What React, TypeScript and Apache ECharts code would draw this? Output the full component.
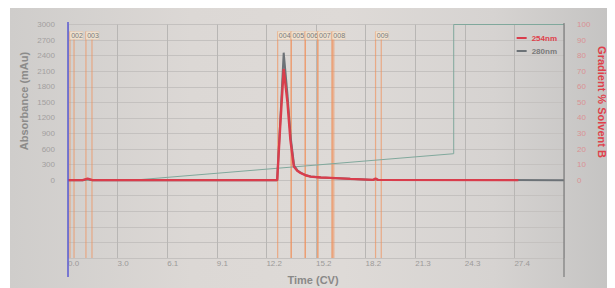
import React, { useEffect, useRef } from "react";
import * as echarts from "echarts";

// Time axis (CV) for the UV traces
const time254 = [0, 0.9, 1.2, 1.5, 3.8, 12.82, 13.0, 13.22, 13.45, 13.63, 13.84, 14.05, 14.25, 14.55, 14.86, 15.5, 16.1, 17.3, 18.7, 18.85, 19.0, 27.6];
const abs254 = [0, 0, 30, 0, 0, 0, 1000, 2143, 1500, 776, 262, 180, 140, 95, 69, 52, 44, 25, 5, 30, 5, 0];
const time280 = [0, 0.9, 1.2, 1.5, 3.8, 12.82, 13.0, 13.22, 13.45, 13.65, 13.86, 14.07, 14.27, 14.57, 14.88, 15.5, 16.1, 17.3, 18.7, 18.85, 19.0, 30.4];
const abs280 = [0, 0, 20, 0, 0, 0, 1080, 2457, 1650, 820, 280, 185, 142, 96, 70, 52, 44, 25, 5, 20, 5, 0];

// Gradient %B
const gradTime = [0, 4.0, 23.64, 23.64, 30.4];
const gradPct = [0, 0, 17, 100, 100];

// Fractions
const fractionLabels = ["002", "003", "004", "005", "006", "007", "008", "009"];
const fractionStart = [0.12, 1.1, 12.85, 13.68, 14.54, 15.31, 16.19, 18.85];
const fractionEnd = [0.37, 1.47, 13.68, 14.54, 15.31, 16.19, 16.29, 19.2];

// Axes
const xMax = 30.4;
const xStep = 3.04;
const absMin = -1500;
const absMax = 3000;
const absStep = 300;
const pctMin = -50;
const pctMax = 100;
const pctStep = 10;

const FONT = "'Liberation Sans', Arial, sans-serif";

export default function App() {
  const ref = useRef<HTMLDivElement>(null);
  useEffect(() => {
    if (!ref.current) return;
    const chart = echarts.init(ref.current, null, { renderer: "svg" });
    const zip = (a: number[], b: number[]) => a.map((v, i) => [v, b[i]]);
    const option: any = {
      animation: false,
      backgroundColor: "transparent",
      grid: { left: 58, right: 51, top: 16.5, bottom: 30 },
      legend: {
        orient: "vertical",
        right: 53,
        top: 21,
        itemWidth: 10,
        itemHeight: 2,
        itemGap: 5,
        icon: "rect",
        textStyle: { fontSize: 8, fontWeight: "bold", fontFamily: FONT },
        data: [
          { name: "254nm", textStyle: { color: "#e0404a" } },
          { name: "280nm", textStyle: { color: "#7a7a7a" } },
        ],
      },
      xAxis: {
        type: "value",
        min: 0,
        max: xMax,
        interval: xStep,
        axisLine: { show: false },
        axisTick: { show: false },
        splitLine: { show: true, lineStyle: { color: "#b8b6b4", width: 1 } },
        axisLabel: {
          showMaxLabel: false,
          align: "left",
          margin: 1,
          fontSize: 8,
          color: "#9c9a99",
          fontFamily: FONT,
          formatter: (v: number) => v.toFixed(1),
        },
      },
      yAxis: [
        {
          type: "value",
          min: absMin,
          max: absMax,
          interval: absStep,
          axisLine: { show: false },
          axisTick: { show: false },
          splitLine: { show: true, lineStyle: { color: "#c4c1bf", width: 1 } },
          axisLabel: {
            margin: 13,
            fontSize: 8,
            color: "#a3a09f",
            fontFamily: FONT,
            formatter: (v: number) => (v < 0 ? "" : String(v)),
          },
        },
        {
          type: "value",
          position: "right",
          min: pctMin,
          max: pctMax,
          interval: pctStep,
          axisLine: { show: false },
          axisTick: { show: false },
          splitLine: { show: false },
          axisLabel: {
            margin: 13,
            fontSize: 8,
            align: "left",
            color: "#d99294",
            fontFamily: FONT,
            formatter: (v: number) => (v < 0 ? "" : String(v)),
          },
        },
      ],
      series: [
        {
          type: "custom",
          name: "fractions",
          xAxisIndex: 0,
          yAxisIndex: 0,
          z: 1,
          encode: { x: [0, 1], y: 3 },
          data: fractionStart.map((s, i) => [s, fractionEnd[i], i, absMax]),
          renderItem: (params: any, api: any) => {
            const s = api.coord([api.value(0), absMax]);
            const e = api.coord([api.value(1), absMax]);
            const b = api.coord([api.value(0), absMin]);
            const top = s[1] + 7;
            const bottom = b[1];
            const label = fractionLabels[api.value(2)];
            const stroke = "rgba(240,145,90,0.65)";
            return {
              type: "group",
              children: [
                { type: "line", shape: { x1: s[0], y1: top, x2: s[0], y2: bottom }, style: { stroke, lineWidth: 1.2 } },
                { type: "line", shape: { x1: e[0], y1: top, x2: e[0], y2: bottom }, style: { stroke, lineWidth: 1.2 } },
                {
                  type: "rect",
                  shape: { x: s[0], y: top, width: 13, height: 8 },
                  style: { fill: "rgba(238,226,208,0.95)", stroke: "rgba(235,180,140,0.5)", lineWidth: 0.5 },
                },
                {
                  type: "text",
                  x: s[0] + 1.2,
                  y: top + 4.3,
                  style: { text: label, fontSize: 7, fill: "#7a7a7a", verticalAlign: "middle", fontFamily: FONT },
                },
              ],
            };
          },
        },
        {
          type: "line",
          name: "Gradient",
          yAxisIndex: 1,
          data: zip(gradTime, gradPct),
          symbol: "none",
          z: 2,
          lineStyle: { color: "#80a89c", width: 1 },
          itemStyle: { color: "#80a89c" },
        },
        {
          type: "line",
          name: "280nm",
          yAxisIndex: 0,
          data: zip(time280, abs280),
          symbol: "none",
          z: 3,
          lineStyle: { color: "#6c7277", width: 2 },
          itemStyle: { color: "#6c7277" },
        },
        {
          type: "line",
          name: "254nm",
          yAxisIndex: 0,
          data: zip(time254, abs254),
          symbol: "none",
          z: 4,
          lineStyle: { color: "#d93d4c", width: 2.4 },
          itemStyle: { color: "#d93d4c" },
        },
      ],
      graphic: [
        { type: "line", shape: { x1: 58, y1: 14, x2: 58, y2: 269 }, style: { stroke: "#5a5ad2", lineWidth: 1.5 }, z: 10 },
        { type: "line", shape: { x1: 554, y1: 15, x2: 554, y2: 269 }, style: { stroke: "#7c7c7c", lineWidth: 1.2 }, z: 10 },
        {
          type: "text",
          x: 14,
          y: 93,
          rotation: Math.PI / 2,
          style: { text: "Absorbance (mAu)", fontSize: 11, fontWeight: "bold", fill: "#8c8b8a", textAlign: "center", textVerticalAlign: "middle", fontFamily: FONT },
        },
        {
          type: "text",
          x: 592,
          y: 94,
          rotation: -Math.PI / 2,
          style: { text: "Gradient % Solvent B", fontSize: 11, fontWeight: "bold", fill: "#e0404a", textAlign: "center", textVerticalAlign: "middle", fontFamily: FONT },
        },
        {
          type: "text",
          x: 303,
          y: 272,
          style: { text: "Time (CV)", fontSize: 11, fontWeight: "bold", fill: "#8a8988", textAlign: "center", textVerticalAlign: "middle", fontFamily: FONT },
        },
      ],
    };
    chart.setOption(option);
    return () => chart.dispose();
  }, []);
  return (
    <div
      style={{
        width: 605,
        height: 280,
        marginLeft: 2,
        background: "linear-gradient(to right, #cfcdcb 0%, #dcd8d5 30%, #dedad7 55%, #d6d3d1 80%, #c4c3c2 100%)",
      }}
    >
      <div ref={ref} style={{ width: 605, height: 280 }} />
    </div>
  );
}
